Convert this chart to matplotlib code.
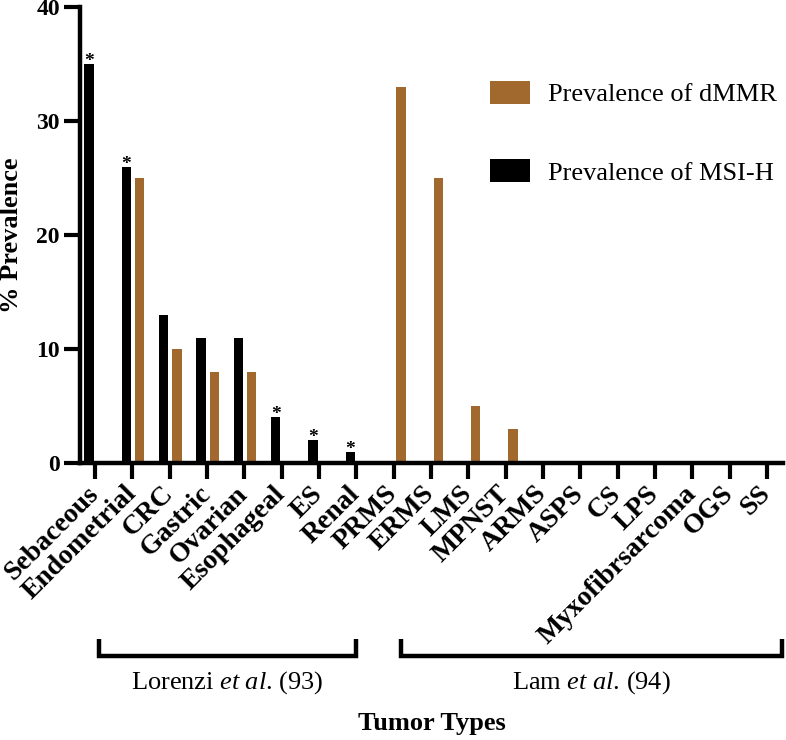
import matplotlib
matplotlib.use("Agg")
import matplotlib.pyplot as plt
import matplotlib.transforms as mtransforms
import numpy as np

plt.rcParams["font.family"] = ["Liberation Serif", "DejaVu Serif"]
plt.rcParams["mathtext.fontset"] = "custom"
plt.rcParams["mathtext.rm"] = "Liberation Serif"
plt.rcParams["mathtext.it"] = "Liberation Serif:italic"

# data
tumors = ["Sebaceous", "Endometrial", "CRC", "Gastric", "Ovarian", "Esophageal",
          "ES", "Renal", "PRMS", "ERMS", "LMS", "MPNST", "ARMS", "ASPS", "CS",
          "LPS", "Myxofibrsarcoma", "OGS", "SS"]
msi_h = [35, 26, 13, 11, 11, 4, 2, 1, 0, 0, 0, 0, 0, 0, 0, 0, 0, 0, 0]
dmmr = [0, 25, 10, 8, 8, 0, 0, 0, 33, 25, 5, 3, 0, 0, 0, 0, 0, 0, 0]
starred = ["Sebaceous", "Endometrial", "Esophageal", "ES", "Renal"]

BROWN = "#A2692F"
W, H = 786, 740

fig = plt.figure(figsize=(W / 100, H / 100), dpi=100)
ax = fig.add_axes([80 / W, 1 - 463 / H, 703 / W, 456 / H])

x = np.arange(len(tumors))
b_msi = ax.bar(x - 0.16, msi_h, width=0.25, color="black", label="Prevalence of MSI-H")
b_dmmr = ax.bar(x + 0.2, dmmr, width=0.25, color=BROWN, label="Prevalence of dMMR")

for name in starred:
    i = tumors.index(name)
    ax.annotate("*", (x[i] - 0.16, msi_h[i]), xytext=(0, -1.5), textcoords="offset points",
                ha="center", va="baseline", fontsize=14, fontweight="bold")

ax.set_xlim(-0.4, 18.43)
ax.set_ylim(0, 40)
ax.set_yticks([0, 10, 20, 30, 40])
ax.set_xticks(x)
ax.set_xticklabels(tumors, rotation=45, ha="right", va="center",
                   rotation_mode="anchor", fontsize=20, fontweight="bold")
shift = mtransforms.ScaledTranslation(5 / 100, 0, fig.dpi_scale_trans)
for lab in ax.get_xticklabels():
    lab.set_transform(lab.get_transform() + shift)
for lab in ax.get_yticklabels():
    lab.set_fontweight("bold")
    lab.set_fontsize(17)

for side in ["top", "right"]:
    ax.spines[side].set_visible(False)
for side in ["left", "bottom"]:
    ax.spines[side].set_linewidth(3.2)
ax.tick_params(axis="both", length=11.5, width=3, pad=3)
ax.tick_params(axis="x", pad=8)

ax.set_ylabel("% Prevalence", fontsize=19, fontweight="bold")
ax.yaxis.set_label_coords((12 - 80) / 703, 0.5)
ax.yaxis.label.set_va("center")
ax.set_xlabel("Tumor Types", fontsize=19, fontweight="bold")
ax.xaxis.set_label_coords(0.5, (463 - 723) / 456)
ax.xaxis.label.set_va("center")

# study brackets below the labels
trans = mtransforms.blended_transform_factory(ax.transData, fig.transFigure)
y_top, y_bot = 1 - 639 / H, 1 - 656 / H
for x0, x1, text in [(0.1, 7.0, r"Lorenzi $\it{et\ al}$. (93)"),
                     (8.2, 18.4, r"Lam $\it{et\ al}$. (94)")]:
    ax.plot([x0, x0, x1, x1], [y_top, y_bot, y_bot, y_top], color="black", lw=3.2,
            transform=trans, clip_on=False, solid_joinstyle="miter", solid_capstyle="butt")
    ax.text((x0 + x1) / 2, 1 - 683 / H, text, transform=trans, ha="center", va="center",
            fontsize=19)

ax.legend(handles=[b_dmmr, b_msi], loc="upper left", frameon=False, fontsize=19,
          bbox_to_anchor=(490 / W, 1 - 81 / H), bbox_transform=fig.transFigure,
          borderaxespad=0, borderpad=0, handlelength=1.52, handleheight=0.95,
          handletextpad=0.68, labelspacing=2.0)

fig.savefig("out.png", dpi=100)
